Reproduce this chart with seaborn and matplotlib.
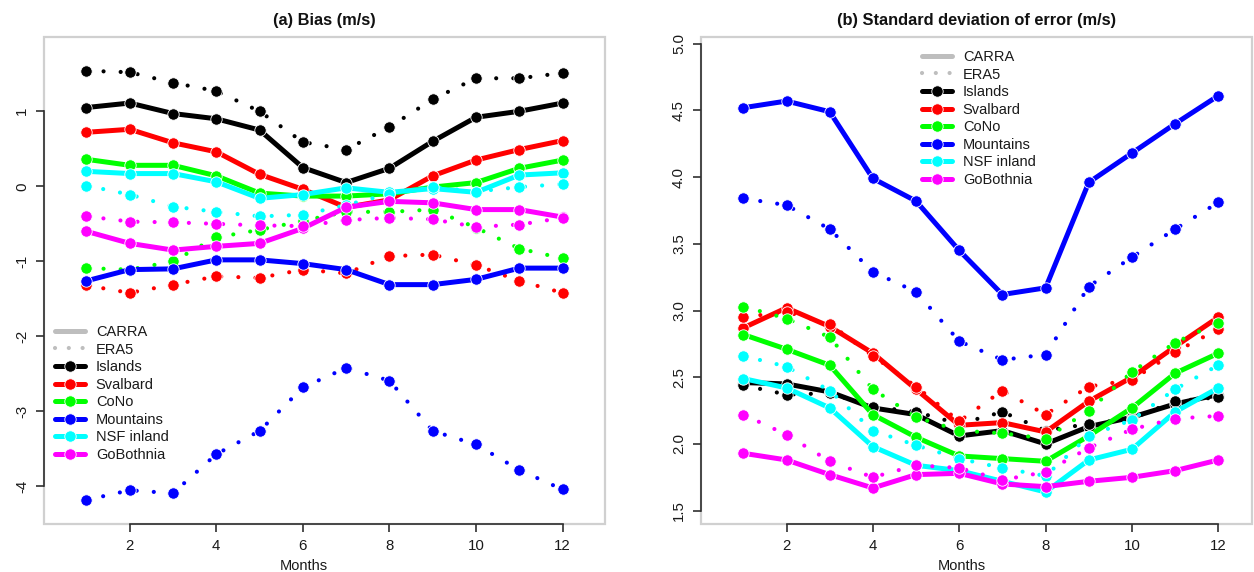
import numpy as np
import pandas as pd
import matplotlib
matplotlib.use("Agg")
import matplotlib.pyplot as plt
from matplotlib.lines import Line2D
from matplotlib.patches import Rectangle
import seaborn as sns

# ---------------- data ----------------
months = list(range(1, 13))
regions = ["Islands", "Svalbard", "CoNo", "Mountains", "NSF inland", "GoBothnia"]
region_colors = ["#000000", "#FF0000", "#00FF00", "#0000FF", "#00FFFF", "#FF00FF"]

# (a) Bias (m/s)
bias_carra_islands   = [1.05, 1.11, 0.97, 0.90, 0.75, 0.25, 0.05, 0.24, 0.60, 0.92, 1.00, 1.11]
bias_era5_islands    = [1.54, 1.52, 1.38, 1.27, 1.00, 0.59, 0.49, 0.79, 1.16, 1.44, 1.44, 1.51]
bias_carra_svalbard  = [0.72, 0.76, 0.58, 0.46, 0.16, -0.04, -0.28, -0.18, 0.14, 0.35, 0.49, 0.61]
bias_era5_svalbard   = [-1.32, -1.42, -1.31, -1.20, -1.22, -1.11, -1.16, -0.93, -0.91, -1.05, -1.26, -1.42]
bias_carra_cono      = [0.36, 0.28, 0.28, 0.14, -0.09, -0.13, -0.13, -0.10, -0.01, 0.05, 0.24, 0.35]
bias_era5_cono       = [-1.09, -1.11, -1.00, -0.68, -0.58, -0.46, -0.34, -0.34, -0.31, -0.55, -0.83, -0.96]
bias_carra_mountains = [-1.26, -1.11, -1.10, -0.98, -0.98, -1.03, -1.11, -1.31, -1.31, -1.24, -1.09, -1.09]
bias_era5_mountains  = [-4.18, -4.05, -4.09, -3.57, -3.26, -2.68, -2.42, -2.59, -3.26, -3.44, -3.78, -4.04]
bias_carra_nsf       = [0.20, 0.17, 0.17, 0.06, -0.16, -0.11, -0.02, -0.08, -0.03, -0.08, 0.15, 0.18]
bias_era5_nsf        = [0.01, -0.11, -0.27, -0.34, -0.40, -0.38, -0.25, -0.10, -0.01, -0.07, -0.01, 0.03]
bias_carra_gob       = [-0.60, -0.76, -0.85, -0.80, -0.76, -0.56, -0.28, -0.20, -0.22, -0.31, -0.31, -0.41]
bias_era5_gob        = [-0.40, -0.47, -0.48, -0.50, -0.52, -0.53, -0.45, -0.42, -0.44, -0.54, -0.51, -0.42]

# (b) Standard deviation of error (m/s)
sde_carra_islands   = [2.46, 2.45, 2.39, 2.27, 2.22, 2.06, 2.10, 2.00, 2.13, 2.20, 2.30, 2.37]
sde_era5_islands    = [2.44, 2.37, 2.38, 2.28, 2.24, 2.15, 2.24, 2.10, 2.15, 2.19, 2.32, 2.35]
sde_carra_svalbard  = [2.87, 3.02, 2.88, 2.68, 2.41, 2.14, 2.16, 2.09, 2.32, 2.50, 2.73, 2.95]
sde_era5_svalbard   = [2.95, 2.99, 2.90, 2.66, 2.43, 2.17, 2.40, 2.22, 2.43, 2.48, 2.69, 2.86]
sde_carra_cono      = [2.82, 2.71, 2.59, 2.22, 2.05, 1.91, 1.89, 1.87, 2.06, 2.27, 2.53, 2.68]
sde_era5_cono       = [3.03, 2.94, 2.80, 2.41, 2.20, 2.10, 2.08, 2.04, 2.25, 2.54, 2.76, 2.91]
sde_carra_mountains = [4.52, 4.57, 4.49, 3.99, 3.82, 3.45, 3.12, 3.17, 3.96, 4.18, 4.40, 4.61]
sde_era5_mountains  = [3.84, 3.79, 3.61, 3.29, 3.14, 2.77, 2.63, 2.67, 3.18, 3.40, 3.61, 3.81]
sde_carra_nsf       = [2.49, 2.42, 2.27, 1.98, 1.84, 1.80, 1.72, 1.64, 1.88, 1.96, 2.24, 2.42]
sde_era5_nsf        = [2.66, 2.58, 2.40, 2.10, 1.99, 1.89, 1.82, 1.76, 2.06, 2.18, 2.41, 2.59]
sde_carra_gob       = [1.93, 1.88, 1.77, 1.67, 1.77, 1.78, 1.70, 1.68, 1.72, 1.75, 1.80, 1.88]
sde_era5_gob        = [2.22, 2.07, 1.87, 1.75, 1.84, 1.82, 1.73, 1.79, 1.97, 2.11, 2.19, 2.21]

bias_carra = [bias_carra_islands, bias_carra_svalbard, bias_carra_cono,
              bias_carra_mountains, bias_carra_nsf, bias_carra_gob]
bias_era5 = [bias_era5_islands, bias_era5_svalbard, bias_era5_cono,
             bias_era5_mountains, bias_era5_nsf, bias_era5_gob]
sde_carra = [sde_carra_islands, sde_carra_svalbard, sde_carra_cono,
             sde_carra_mountains, sde_carra_nsf, sde_carra_gob]
sde_era5 = [sde_era5_islands, sde_era5_svalbard, sde_era5_cono,
            sde_era5_mountains, sde_era5_nsf, sde_era5_gob]

bias_yticks = [-4, -3, -2, -1, 0, 1]
sde_yticks = [1.5, 2.0, 2.5, 3.0, 3.5, 4.0, 4.5, 5.0]
sde_yticklabels = ["1.5", "2.0", "2.5", "3.0", "3.5", "4.0", "4.5", "5.0"]
xticks = [2, 4, 6, 8, 10, 12]

# ---------------- style ----------------
sns.set_theme(style="white")
plt.rcParams['font.family'] = ['Liberation Sans', 'DejaVu Sans']
plt.rcParams['axes.unicode_minus'] = False

W, H = 1254, 572
fig = plt.figure(figsize=(W / 100, H / 100), dpi=100)

def px_axes(x0, y0, x1, y1):
    return fig.add_axes([x0 / W, 1 - y1 / H, (x1 - x0) / W, (y1 - y0) / H])

axA = px_axes(44, 37, 605, 524)
axB = px_axes(701, 37, 1252, 524)

LW_SOLID = 3.6
LW_DOT = 3.0
MS = 8.2
DOT_STYLE = (0, (0.01, 4.1))

def draw_panel(ax, carra, era5):
    for c, col, ycar, yera in zip(regions, region_colors, carra, era5):
        df_c = pd.DataFrame({"month": months, "value": ycar})
        df_e = pd.DataFrame({"month": months, "value": yera})
        sns.lineplot(data=df_c, x="month", y="value", ax=ax, color=col,
                     linewidth=LW_SOLID, marker="o", markersize=MS,
                     markeredgecolor="white", markeredgewidth=0.6,
                     solid_capstyle="round", zorder=3)
        sns.lineplot(data=df_e, x="month", y="value", ax=ax, color=col,
                     linewidth=LW_DOT, linestyle=DOT_STYLE, dash_capstyle="round",
                     marker="o", markersize=MS,
                     markeredgecolor="white", markeredgewidth=0.6, zorder=3)

def style_axes(ax, xlim, ylim, yticks, yticklabels, ybounds, title, xlabel_x):
    ax.set_xlim(*xlim)
    ax.set_ylim(*ylim)
    ax.set_xticks(xticks)
    ax.set_xticklabels([str(t) for t in xticks])
    ax.set_yticks(yticks)
    ax.set_yticklabels(yticklabels, rotation=90, va="center")
    for s in ["top", "right"]:
        ax.spines[s].set_visible(False)
    for s in ["left", "bottom"]:
        ax.spines[s].set_color("#303030")
        ax.spines[s].set_linewidth(1.2)
        ax.spines[s].set_zorder(5)
    ax.spines["left"].set_bounds(*ybounds)
    ax.spines["bottom"].set_bounds(xticks[0], xticks[-1])
    ax.add_patch(Rectangle((0, 0), 1, 1, transform=ax.transAxes, fill=False,
                           edgecolor="#D0D0D0", linewidth=1.6, zorder=0,
                           clip_on=False))
    ax.tick_params(axis="both", which="major", direction="out", length=5.8,
                   width=1.2, color="#303030", labelsize=10.8,
                   labelcolor="#1a1a1a", pad=5, left=True, bottom=True)
    ax.set_xlabel("Months", fontsize=10.5, color="#1a1a1a")
    ax.xaxis.set_label_coords(xlabel_x, -0.072)
    ax.set_ylabel("")
    ax.set_title(title, fontsize=11.8, fontweight="bold", pad=9, color="#111111")
    ax.grid(False)
    ax.set_facecolor("white")

draw_panel(axA, bias_carra, bias_era5)
draw_panel(axB, sde_carra, sde_era5)

style_axes(axA, (0.02, 12.98), (-4.5, 1.99), bias_yticks,
           [str(t) for t in bias_yticks], (-4, 1), "(a) Bias (m/s)", 0.463)
style_axes(axB, (0.02, 12.78), (1.40, 5.05), sde_yticks, sde_yticklabels,
           (1.5, 5.0), "(b) Standard deviation of error (m/s)", 0.474)

def legend_handles():
    h = [Line2D([], [], color="#BEBEBE", lw=LW_SOLID),
         Line2D([], [], color="#BEBEBE", lw=LW_DOT, linestyle=(0, (0.01, 3.3)),
                dash_capstyle="round")]
    for col in region_colors:
        h.append(Line2D([], [], color=col, lw=LW_SOLID, marker="o",
                        markersize=MS, markeredgecolor="white",
                        markeredgewidth=0.6))
    return h

labels = ["CARRA", "ERA5"] + regions

def add_legend(ax, x_px, top_px):
    ax.legend(legend_handles(), labels, loc="upper left",
              bbox_to_anchor=(x_px / W, 1 - top_px / H),
              bbox_transform=fig.transFigure, frameon=False,
              fontsize=10.5, handlelength=2.05, handletextpad=0.75,
              labelspacing=0.245, borderpad=0, borderaxespad=0,
              labelcolor="#1a1a1a")

add_legend(axA, 55, 325)
add_legend(axB, 922, 50)

fig.savefig("out.png", dpi=100, facecolor="white")
